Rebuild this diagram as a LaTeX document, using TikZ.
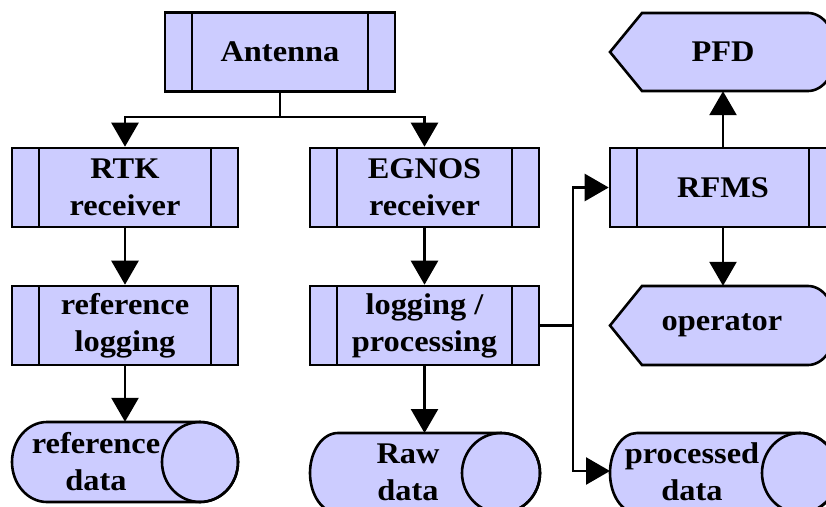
\documentclass[tikz,border=0pt]{standalone}
\usepackage{fontspec}
\setmainfont{Liberation Serif}[FakeStretch=1.08]
\usetikzlibrary{arrows.meta}
\definecolor{boxfill}{HTML}{CCCCFF}
\begin{document}
\begin{tikzpicture}[x=1pt,y=-1pt,
  lw/.style={line width=2.6pt},
  txt/.style={font=\fontsize{30}{37}\selectfont\bfseries, align=center, inner sep=0pt},
  shp/.style={draw, fill=boxfill, lw, line join=miter},
  procbox/.style={txt, shp, rectangle, minimum height=79pt,
    path picture={\draw[lw]
      ([xshift=27pt]path picture bounding box.north west) -- ([xshift=27pt]path picture bounding box.south west)
      ([xshift=-27pt]path picture bounding box.north east) -- ([xshift=-27pt]path picture bounding box.south east);}},
  arr/.style={lw, -{Triangle[width=27pt,length=24pt]}},
  ln/.style={lw}]
\useasboundingbox (0,0) rectangle (826,506);
\clip (0,0) rectangle (826,506);

% process boxes
\node[procbox, minimum width=230pt] (ant) at (280,52) {Antenna};
\node[procbox, minimum width=226pt] (rtk) at (125,187.5) {RTK\\receiver};
\node[procbox, minimum width=229pt] (egnos) at (424.5,187.5) {EGNOS\\receiver};
\node[procbox, minimum width=226pt] (rfms) at (723,187.5) {RFMS};
\node[procbox, minimum width=226pt] (reflog) at (125,325.5) {reference\\logging};
\node[procbox, minimum width=229pt] (logproc) at (424.5,325.5) {logging /\\processing};

% display shapes
\path[shp] (610,52) -- (642,13) -- (808,13)
  arc[start angle=90, end angle=-90, x radius=28pt, y radius=39pt] -- (642,91) -- cycle;
\node[txt, minimum height=78pt] (pfd) at (723,52) {PFD};
\path[shp] (610,325.5) -- (642,286) -- (808,286)
  arc[start angle=90, end angle=-90, x radius=28pt, y radius=39.5pt] -- (642,365) -- cycle;
\node[txt, minimum height=79pt] (op) at (722,325.5) {operator};

% storage shapes
\path[shp] (200,422) -- (47,422) arc[start angle=90, end angle=270, x radius=35pt, y radius=40pt]
  -- (200,502) arc[start angle=270, end angle=450, x radius=38pt, y radius=40pt] -- cycle;
\draw[lw] (200,462) ellipse [x radius=38pt, y radius=40pt];
\node[txt, minimum height=80pt] (refdata) at (96,462) {reference\\data};

\path[shp] (501,433) -- (338,433) arc[start angle=90, end angle=270, x radius=28pt, y radius=40pt]
  -- (501,513) arc[start angle=270, end angle=450, x radius=39pt, y radius=40pt] -- cycle;
\draw[lw] (501,473) ellipse [x radius=39pt, y radius=40pt];
\coordinate (rawtop) at (424.5,433);
\node[txt] (rawdata) at (408,472) {Raw\\data};

\path[shp] (800,433) -- (637,433) arc[start angle=90, end angle=270, x radius=27pt, y radius=40pt]
  -- (800,513) arc[start angle=270, end angle=450, x radius=38pt, y radius=40pt] -- cycle;
\draw[lw] (800,473) ellipse [x radius=38pt, y radius=40pt];
\coordinate (procL) at (610,471);
\node[txt] (procdata) at (692,471.5) {processed\\data};

% connectors
\coordinate (j1) at (280,117);
\draw[ln] (ant.south) -- (j1);
\draw[arr] (j1) -| (rtk.north);
\draw[arr] (j1) -| (egnos.north);
\draw[arr] (rtk.south) -- (reflog.north);
\draw[arr] (reflog.south) -- (reflog.south |- refdata.north);
\draw[arr] (egnos.south) -- (logproc.north);
\draw[arr] (logproc.south) -- (logproc.south |- rawtop);
\coordinate (j2) at (573,325.5);
\draw[ln] (logproc.east) -- (j2);
\draw[arr] (j2) |- (rfms.west);
\draw[arr] (j2) |- (procL);
\draw[arr] (rfms.north) -- (rfms.north |- pfd.south);
\draw[arr] (rfms.south) -- (rfms.south |- op.north);
\end{tikzpicture}
\end{document}
